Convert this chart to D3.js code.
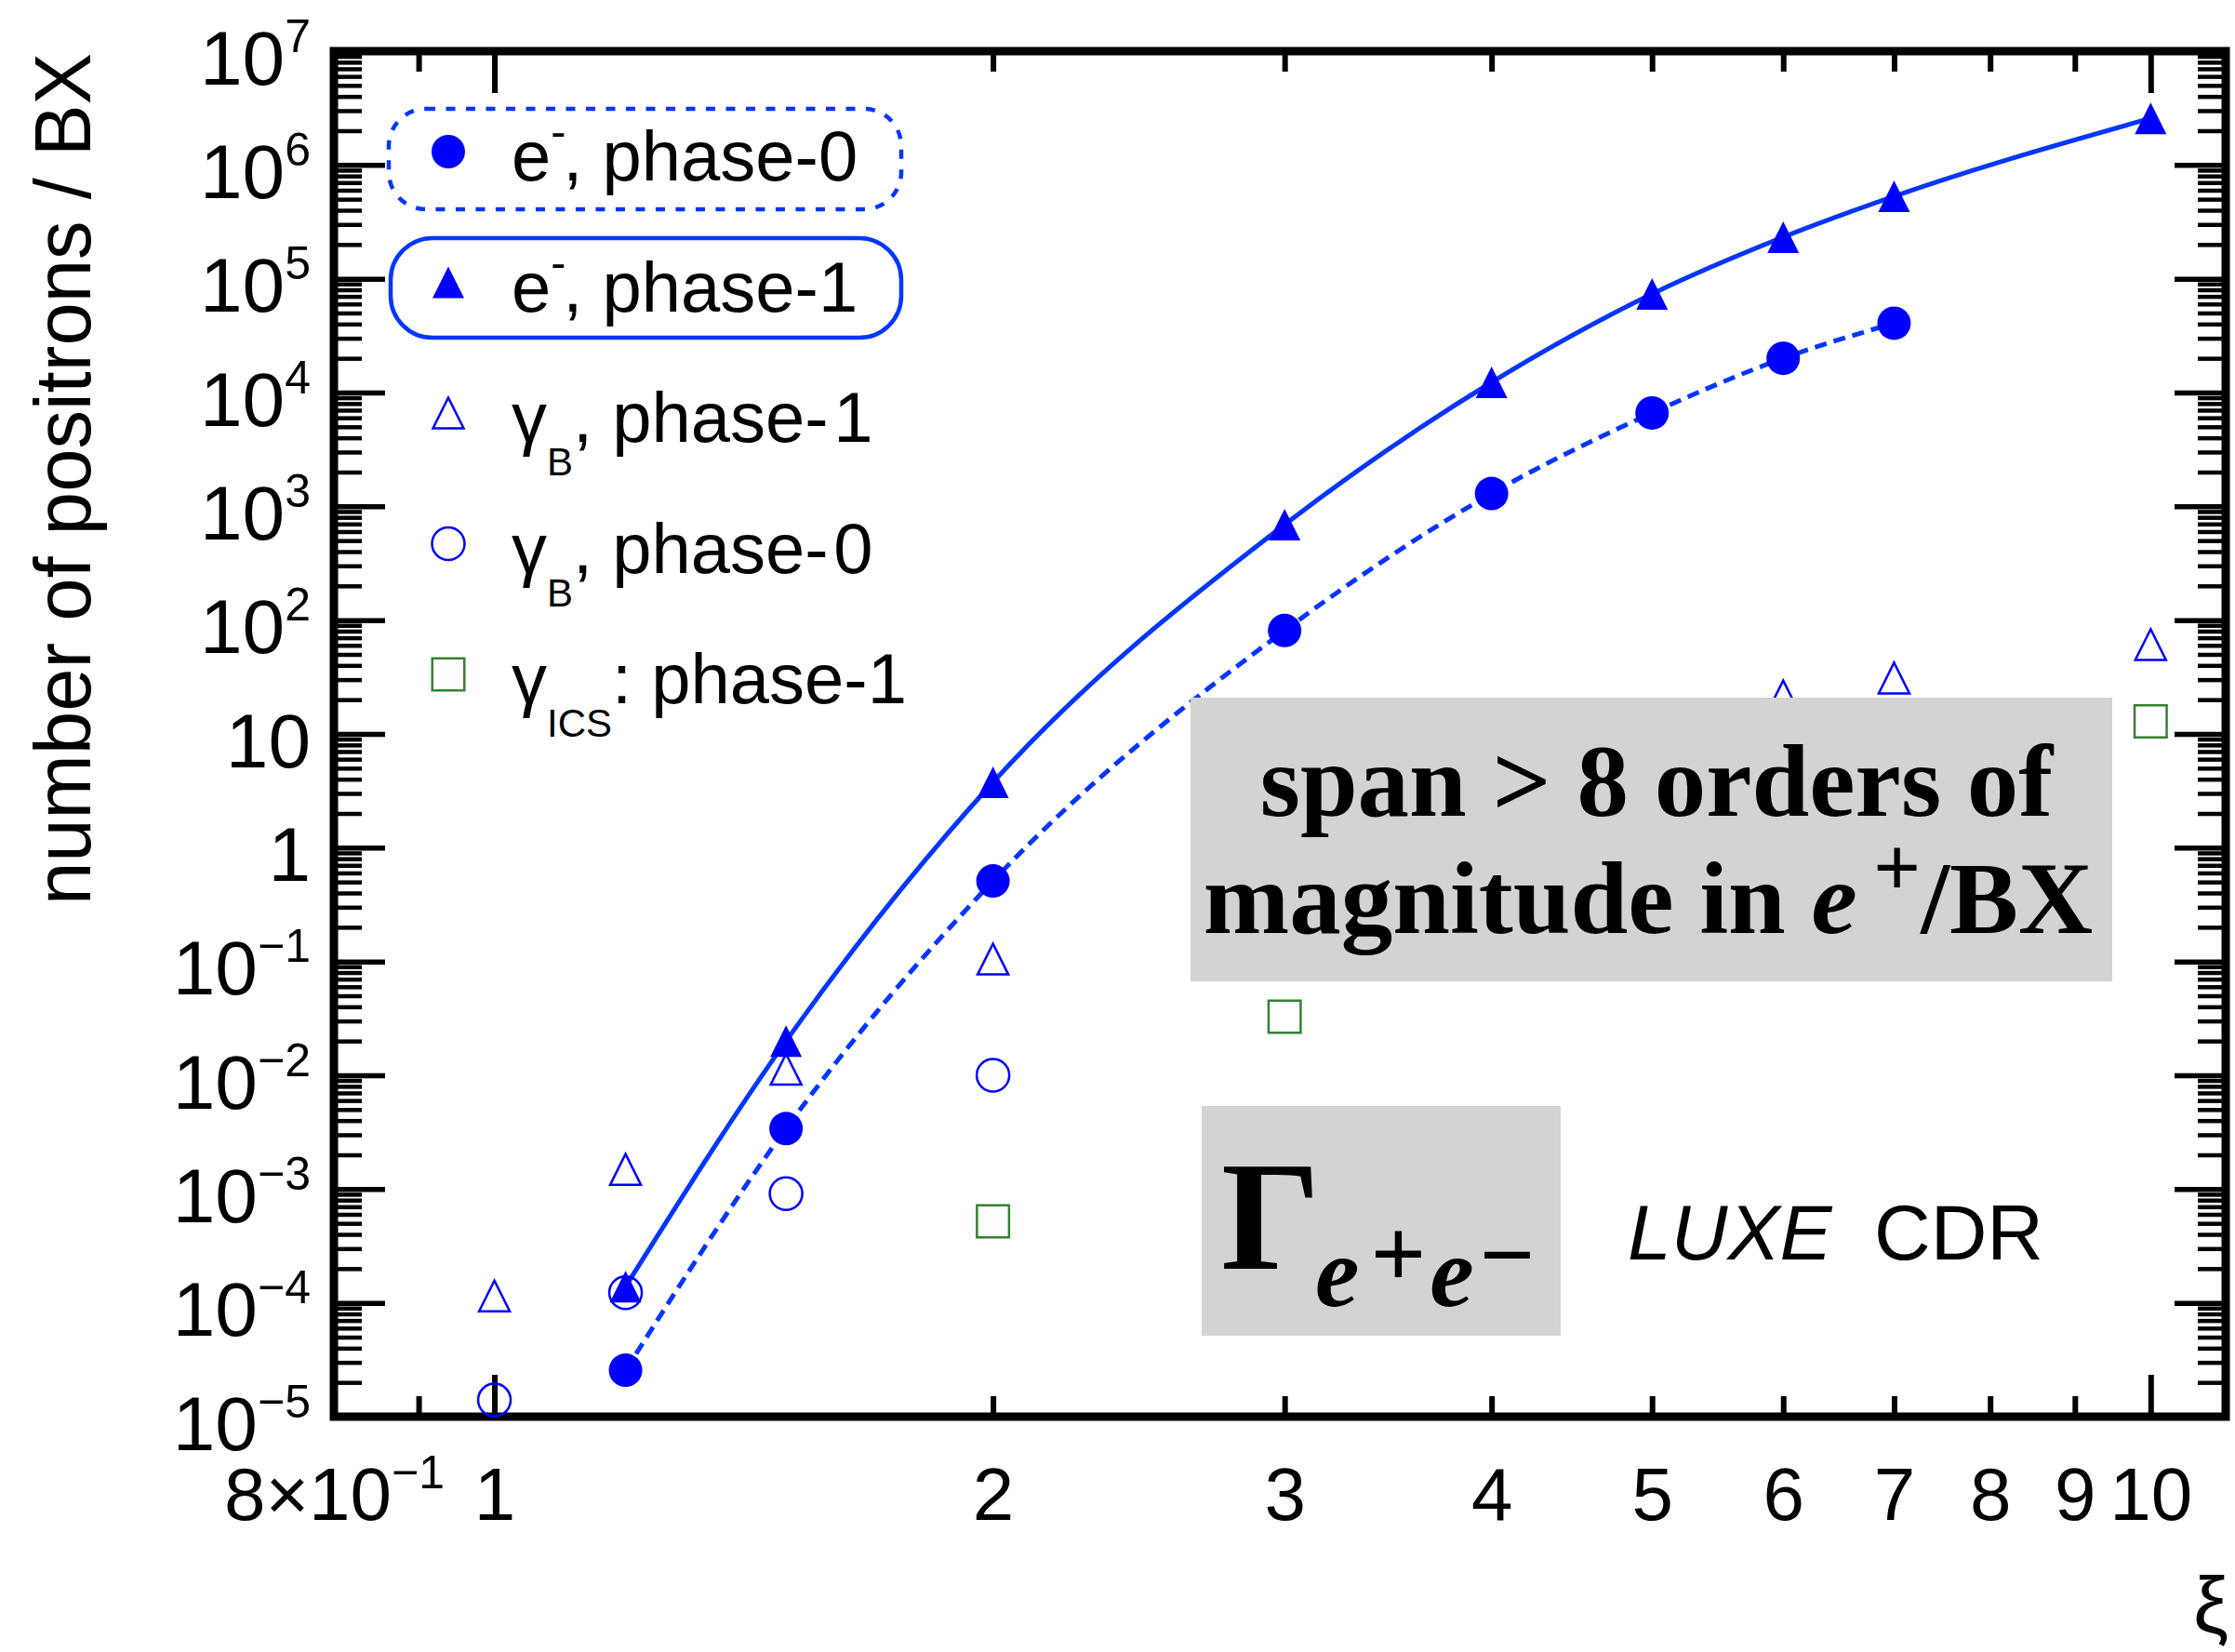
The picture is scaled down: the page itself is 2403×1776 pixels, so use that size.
<!DOCTYPE html>
<html>
<head>
<meta charset="utf-8">
<script src="https://cdn.jsdelivr.net/npm/d3@7"></script>
<style>
  body { margin: 0; background: #fff; }
  svg { display: block; }
</style>
</head>
<body>
<div id="chart"></div>
<script>
// data
const xiEPhase1 = [1.2, 1.5, 2, 3, 4, 5, 6, 7, 10];
const ePhase1 = [1.39e-4, 0.020, 3.76, 690, 1.23e4, 7.35e4, 2.32e5, 5.3e5, 2.57e6];
const xiEPhase0 = [1.2, 1.5, 2, 3, 4, 5, 6, 7];
const ePhase0 = [2.56e-5, 3.4e-3, 0.51, 81, 1295, 6620, 2.0e4, 4.07e4];
const xiGammaB1 = [1, 1.2, 1.5, 2, 6, 7, 10];
const gammaBPhase1 = [1.15e-4, 1.49e-3, 0.0113, 0.105, 21.6, 31, 61];
const xiGammaB0 = [1, 1.2, 1.5, 2];
const gammaBPhase0 = [1.4e-5, 1.23e-4, 9.1e-4, 0.01];
const xiGammaIcs = [2, 3, 10];
const gammaIcsPhase1 = [5.2e-4, 0.0327, 12.9];

// ticks and labels
const yExponents = [-5, -4, -3, -2, -1, 0, 1, 2, 3, 4, 5, 6, 7];
const yTickLabels = ["10^\u22125", "10^\u22124", "10^\u22123", "10^\u22122", "10^\u22121", "1", "10",
    "10^2", "10^3", "10^4", "10^5", "10^6", "10^7"];
const yMinorMultipliers = [2, 3, 4, 5, 6, 7, 8, 9];
const xMajorTicks = [1, 10];
const xMinorTicks = [0.9, 2, 3, 4, 5, 6, 7, 8, 9];
const xLabelValues = [0.8, 1, 2, 3, 4, 5, 6, 7, 8, 9, 10];
const xTickLabels = ["8\u00d710^\u22121", "1", "2", "3", "4", "5", "6", "7", "8", "9", "10"];

const width = 2403;
const height = 1776;
const plot = {left: 359, right: 2393, top: 55, bottom: 1523};
const sans = "'Liberation Sans', Arial, Helvetica, sans-serif";
const serif = "'Liberation Serif', 'Times New Roman', serif";
const lineBlue = "#0536ff";
const markerBlue = "#0000ff";
const green = "#348034";

const svg = d3.select("#chart").append("svg")
    .attr("width", width)
    .attr("height", height);

const x = d3.scaleLog().domain([0.8, 11.1]).range([plot.left, plot.right]);
const y = d3.scaleLog().domain([1e-5, 1e7]).range([plot.bottom, plot.top]);

const yMajor = yExponents.map(e => Math.pow(10, e));
const yMinor = yExponents.slice(0, -1).flatMap(e => yMinorMultipliers.map(m => m * Math.pow(10, e)));

/**
 * Write a label like "10^-3" as base text plus a raised exponent
 */
function writeLabel(el, label, size, supSize, raise) {
    const [base, sup] = label.split("^");
    el.text(null);
    el.append("tspan").attr("font-size", size).text(base);
    if (sup) {
        el.append("tspan").attr("font-size", supSize).attr("dy", -raise).text(sup);
    }
}

/**
 * Draw tick marks only (no labels, no domain line)
 */
function drawTicks(axis, tx, ty, strokeWidth) {
    svg.append("g")
        .attr("transform", `translate(${tx},${ty})`)
        .call(axis.tickFormat(() => "").tickSizeOuter(0))
        .call(g => g.select(".domain").remove())
        .call(g => g.selectAll(".tick line").attr("stroke", "#000").attr("stroke-width", strokeWidth));
}

// y ticks, left and right
drawTicks(d3.axisLeft(y).tickValues(yMinor).tickSizeInner(-30), plot.left, 0, 4.5);
drawTicks(d3.axisLeft(y).tickValues(yMajor).tickSizeInner(-55), plot.left, 0, 5.5);
drawTicks(d3.axisRight(y).tickValues(yMinor).tickSizeInner(-30), plot.right, 0, 4.5);
drawTicks(d3.axisRight(y).tickValues(yMajor).tickSizeInner(-55), plot.right, 0, 5.5);

// x ticks, bottom and top
drawTicks(d3.axisBottom(x).tickValues(xMinorTicks).tickSizeInner(-22), 0, plot.bottom, 6);
drawTicks(d3.axisBottom(x).tickValues(xMajorTicks).tickSizeInner(-45), 0, plot.bottom, 6);
drawTicks(d3.axisTop(x).tickValues(xMinorTicks).tickSizeInner(-22), 0, plot.top, 6);
drawTicks(d3.axisTop(x).tickValues(xMajorTicks).tickSizeInner(-45), 0, plot.top, 6);

// y tick labels
svg.append("g")
    .attr("transform", `translate(${plot.left},0)`)
    .call(d3.axisLeft(y).tickValues(yMajor).tickSize(0).tickPadding(25).tickFormat((d, i) => yTickLabels[i]))
    .attr("font-family", sans)
    .attr("font-size", 82)
    .call(g => g.select(".domain").remove())
    .call(g => g.selectAll(".tick text")
        .attr("fill", "#000")
        .attr("dy", 35)
        .each(function (d, i) { writeLabel(d3.select(this), yTickLabels[i], 82, 50, 35); }));

// x tick labels
svg.append("g")
    .attr("transform", `translate(0,${plot.bottom})`)
    .call(d3.axisBottom(x).tickValues(xLabelValues).tickSize(0).tickPadding(0).tickFormat((d, i) => xTickLabels[i]))
    .attr("font-family", sans)
    .attr("font-size", 80)
    .call(g => g.select(".domain").remove())
    .call(g => g.selectAll(".tick text")
        .attr("fill", "#000")
        .attr("y", 111)
        .attr("dy", null)
        .each(function (d, i) { writeLabel(d3.select(this), xTickLabels[i], 80, 50, 34); }));

// frame
svg.append("rect")
    .attr("x", plot.left)
    .attr("y", plot.top)
    .attr("width", plot.right - plot.left)
    .attr("height", plot.bottom - plot.top)
    .attr("fill", "none")
    .attr("stroke", "#000")
    .attr("stroke-width", 9);

// axis titles
svg.append("text")
    .attr("transform", "translate(97,515) rotate(-90)")
    .attr("text-anchor", "middle")
    .attr("font-family", sans)
    .attr("font-size", 86)
    .attr("textLength", 916)
    .attr("lengthAdjust", "spacingAndGlyphs")
    .text("number of positrons / BX");

svg.append("text")
    .attr("x", 2396)
    .attr("y", 1755)
    .attr("text-anchor", "end")
    .attr("font-family", sans)
    .attr("font-size", 85)
    .text("\u03be");

// fit lines
const line = d3.line()
    .x(d => x(d[0]))
    .y(d => y(d[1]))
    .curve(d3.curveMonotoneX);

svg.append("path")
    .attr("d", line(d3.zip(xiEPhase1, ePhase1)))
    .attr("fill", "none")
    .attr("stroke", lineBlue)
    .attr("stroke-width", 5);

svg.append("path")
    .attr("d", line(d3.zip(xiEPhase0, ePhase0)))
    .attr("fill", "none")
    .attr("stroke", lineBlue)
    .attr("stroke-width", 5)
    .attr("stroke-dasharray", "13,8");

// markers; triangle centred on its bounding box like ROOT markers
const triangleUp = {
    draw(context, size) {
        const r = Math.sqrt(size) / 2;
        context.moveTo(0, -r);
        context.lineTo(r, r);
        context.lineTo(-r, r);
        context.closePath();
    }
};

const series = [
    {xs: xiEPhase0, vs: ePhase0, type: d3.symbolCircle, size: Math.PI * 18 * 18, filled: true, color: markerBlue},
    {xs: xiEPhase1, vs: ePhase1, type: triangleUp, size: 34 * 34, filled: true, color: markerBlue},
    {xs: xiGammaB1, vs: gammaBPhase1, type: triangleUp, size: 33 * 33, filled: false, color: markerBlue},
    {xs: xiGammaB0, vs: gammaBPhase0, type: d3.symbolCircle, size: Math.PI * 17.5 * 17.5, filled: false, color: markerBlue},
    {xs: xiGammaIcs, vs: gammaIcsPhase1, type: d3.symbolSquare, size: 34.5 * 34.5, filled: false, color: green}
];

function styleMarker(sel, s) {
    sel.attr("d", d3.symbol(s.type, s.size))
        .attr("fill", s.filled ? s.color : "none")
        .attr("stroke", s.filled ? "none" : s.color)
        .attr("stroke-width", 2.5);
}

series.forEach(s => {
    svg.append("g")
        .selectAll("path")
        .data(d3.zip(s.xs, s.vs))
        .join("path")
        .attr("transform", d => `translate(${x(d[0])},${y(d[1])})`)
        .call(sel => styleMarker(sel, s));
});

// grey annotation boxes
svg.append("rect")
    .attr("x", 1280).attr("y", 750)
    .attr("width", 991).attr("height", 305)
    .attr("fill", "#d3d3d3");

svg.append("text")
    .attr("x", 1781).attr("y", 877)
    .attr("text-anchor", "middle")
    .attr("font-family", serif)
    .attr("font-weight", "bold")
    .attr("font-size", 111)
    .text("span > 8 orders of");

const line2 = svg.append("text")
    .attr("x", 1772).attr("y", 1003)
    .attr("text-anchor", "middle")
    .attr("font-family", serif)
    .attr("font-weight", "bold")
    .attr("font-size", 111);
line2.append("tspan").text("magnitude in ");
line2.append("tspan").attr("font-style", "italic").text("e");
line2.append("tspan").attr("font-size", 90).attr("dx", 17).attr("dy", -40).text("+");
line2.append("tspan").attr("dy", 40).text("/BX");

svg.append("rect")
    .attr("x", 1292).attr("y", 1189)
    .attr("width", 386).attr("height", 247)
    .attr("fill", "#d3d3d3");

svg.append("text")
    .attr("x", 1313).attr("y", 1364)
    .attr("font-family", serif)
    .attr("font-weight", "bold")
    .attr("font-size", 168)
    .text("\u0393");

const sub = svg.append("text")
    .attr("x", 1414).attr("y", 1404)
    .attr("font-family", serif)
    .attr("font-weight", "bold")
    .attr("font-size", 107);
sub.append("tspan").attr("font-style", "italic").text("e");
sub.append("tspan").attr("font-size", 105).attr("dx", 12).attr("dy", -20).text("+");
sub.append("tspan").attr("font-style", "italic").attr("dx", 4).attr("dy", 20).text("e");
sub.append("tspan").attr("font-size", 105).attr("dx", 6).attr("dy", -20).text("\u2212");

svg.append("text")
    .attr("x", 1750).attr("y", 1354)
    .attr("font-family", sans)
    .attr("font-style", "italic")
    .attr("font-size", 84)
    .text("LUXE");

svg.append("text")
    .attr("x", 2015).attr("y", 1354)
    .attr("font-family", sans)
    .attr("font-size", 84)
    .text("CDR");

// legend
const legendX = 482;
const legendTextX = 550;
const legendRowY = [163, 303.5, 444, 584.5, 725];

svg.append("rect")
    .attr("x", 418).attr("y", 117)
    .attr("width", 551).attr("height", 108)
    .attr("rx", 40).attr("ry", 40)
    .attr("fill", "none")
    .attr("stroke", lineBlue)
    .attr("stroke-width", 4.5)
    .attr("stroke-dasharray", "10,11.5");

svg.append("rect")
    .attr("x", 420).attr("y", 256)
    .attr("width", 549).attr("height", 107)
    .attr("rx", 45).attr("ry", 45)
    .attr("fill", "none")
    .attr("stroke", lineBlue)
    .attr("stroke-width", 4.5);

series.forEach((s, i) => {
    svg.append("path")
        .attr("transform", `translate(${legendX},${legendRowY[i]})`)
        .call(sel => styleMarker(sel, s));
});

function legendText(i) {
    return svg.append("text")
        .attr("x", legendTextX)
        .attr("y", legendRowY[i] + 31)
        .attr("font-family", sans)
        .attr("font-size", 76);
}

[0, 1].forEach(i => {
    const t = legendText(i);
    t.append("tspan").text("e");
    t.append("tspan").attr("font-size", 48).attr("dy", -36).text("-");
    t.append("tspan").attr("dx", -3).attr("dy", 36).text(i === 0 ? ", phase-0" : ", phase-1");
});

[[2, "1"], [3, "0"]].forEach(([i, phase]) => {
    const t = legendText(i);
    t.append("tspan").text("\u03b3");
    t.append("tspan").attr("font-size", 42).attr("dy", 36).text("B");
    t.append("tspan").attr("dy", -36).text(", phase-");
    t.append("tspan").attr("font-size", 20).text(" ");
    t.append("tspan").text(phase);
});

const icsText = legendText(4);
icsText.append("tspan").text("\u03b3");
icsText.append("tspan").attr("font-size", 42).attr("dy", 36).text("ICS");
icsText.append("tspan").attr("dy", -36).text(": phase-1");
</script>
</body>
</html>
